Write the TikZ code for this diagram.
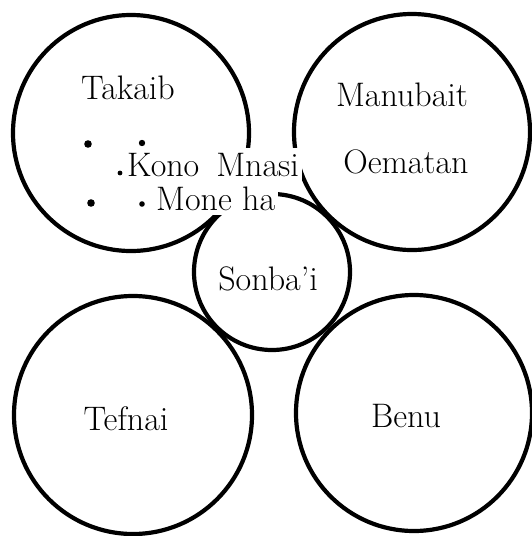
\documentclass[tikz,border=0pt]{standalone}
\usetikzlibrary{positioning}
\tikzset{
  region/.style={circle, draw, line width=4.2pt, inner sep=0pt},
  placename/.style={font=\fontsize{34}{40}\selectfont, inner sep=0pt, anchor=base},
  covered/.style={placename, anchor=base west, fill=white, inner xsep=3pt, inner ysep=5pt},
}
\begin{document}
\begin{tikzpicture}[x=1pt, y=-1pt]
  \useasboundingbox (0,0) rectangle (532,536);
  % outer regions and the centre
  \node[region, minimum size=236pt] (takaib) at (131,133) {};
  \node[region, minimum size=236pt] (manubait) at (412,132) {};
  \node[region, minimum size=238pt] (tefnai) at (133,415) {};
  \node[region, minimum size=236pt] (benu) at (414,413) {};
  \node[region, minimum size=156pt] (sonbai) at (272,272) {};
  % names
  \node[placename] (takaibname) at (128,99) {Takaib};
  \node[placename] (manubaitname) at (402,106) {Manubait};
  \node[placename] (oematan) at (406,173) {Oematan};
  \node[placename] (sonbainame) at (268,290) {Sonba'i};
  \node[placename] (tefnainame) at (126,430) {Tefnai};
  \node[placename] (benuname) at (406,427) {Benu};
  \node[covered] (kono) at (124,176) {Kono\hspace{17pt}Mnasi};
  \node[covered] (mone) at (153,210) {Mone ha};
  % dots
  \foreach \x/\y/\r in {88/144/3.8, 142/143/3.2, 120/173/2.4, 91/203/3.8, 142/204/2.8}
    \fill (\x,\y) circle[radius=\r pt];
\end{tikzpicture}
\end{document}
